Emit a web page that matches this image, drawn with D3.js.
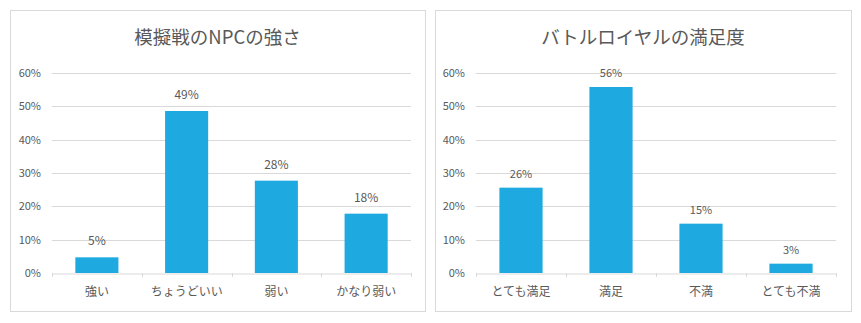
<!DOCTYPE html>
<html><head><meta charset="utf-8">
<script src="https://cdn.jsdelivr.net/npm/d3@7"></script>
<style>body{margin:0;background:#fff;}svg{display:block;}</style>
</head><body>
<svg id="c" width="861" height="323"></svg>
<script>
const title1 = "模擬戦のNPCの強さ";
const categories1 = ["強い", "ちょうどいい", "弱い", "かなり弱い"];
const values1 = [4.7, 48.6, 27.7, 17.8];
const title2 = "バトルロイヤルの満足度";
const categories2 = ["とても満足", "満足", "不満", "とても不満"];
const values2 = [25.6, 55.8, 14.8, 2.8];
const yTicks = [0, 10, 20, 30, 40, 50, 60];

const svg = d3.select("#c");
const font = "'Noto Sans CJK JP', 'Noto Sans', sans-serif";
const textCol = "#595959";
const pct = d => d3.format(".0f")(d) + "%";

function panel(ox, w, px0, px1, title, cats, vals, labelSize, labelGap) {
  const g = svg.append("g").attr("transform", `translate(${ox},0)`);
  g.append("rect").attr("x", 0.5).attr("y", 10.5).attr("width", w).attr("height", 301)
    .attr("fill", "#fff").attr("stroke", "#d9d9d9");
  g.append("text").attr("x", w / 2).attr("y", 44).attr("text-anchor", "middle")
    .attr("font-family", font).attr("font-size", 18.5).attr("fill", textCol).text(title);
  const x = d3.scaleBand().domain(cats).range([px0, px1]).paddingInner(0.52).paddingOuter(0.26);
  const xb = d3.scaleBand().domain(cats).range([px0, px1]);
  const y = d3.scaleLinear().domain([0, 60]).range([273, 73]);
  g.append("g").selectAll("line").data(yTicks.filter(t => t > 0)).join("line")
    .attr("x1", px0).attr("x2", px1).attr("y1", d => Math.round(y(d)) + 0.5).attr("y2", d => Math.round(y(d)) + 0.5)
    .attr("stroke", "#d9d9d9");
  const ya = g.append("g").attr("transform", `translate(${px0},0)`)
    .call(d3.axisLeft(y).tickValues(yTicks).tickFormat(d => d + "%").tickSize(0).tickPadding(11));
  ya.select(".domain").remove();
  ya.selectAll("text").attr("font-family", font).attr("font-size", 11).attr("fill", textCol);
  g.append("g").selectAll("rect").data(vals).join("rect")
    .attr("x", (d, i) => x(cats[i])).attr("width", x.bandwidth())
    .attr("y", d => y(d)).attr("height", d => y(0) - y(d)).attr("fill", "#1EA9E1");
  const xa = g.append("g").attr("transform", `translate(0,${Math.round(y(0)) + 0.5})`)
    .call(d3.axisBottom(xb).tickSize(0).tickPadding(14));
  xa.select(".domain").attr("stroke", "#d9d9d9");
  xa.selectAll("text").attr("font-family", font).attr("font-size", 12).attr("fill", textCol);
  const edges = cats.map(c => xb(c)).concat([px1]);
  g.append("g").selectAll("line").data(edges).join("line")
    .attr("x1", d => Math.round(d) + 0.5).attr("x2", d => Math.round(d) + 0.5)
    .attr("y1", y(0)).attr("y2", y(0) + 4).attr("stroke", "#d9d9d9");
  g.append("g").selectAll("text").data(vals).join("text")
    .attr("x", (d, i) => x(cats[i]) + x.bandwidth() / 2).attr("y", d => y(d) - labelGap)
    .attr("text-anchor", "middle").attr("font-family", font).attr("font-size", labelSize)
    .attr("fill", textCol).text(pct);
}
panel(10, 415, 42, 401, title1, categories1, values1, 12, 12);
panel(435, 416, 41, 401, title2, categories2, values2, 11, 10);
</script>
</body></html>
